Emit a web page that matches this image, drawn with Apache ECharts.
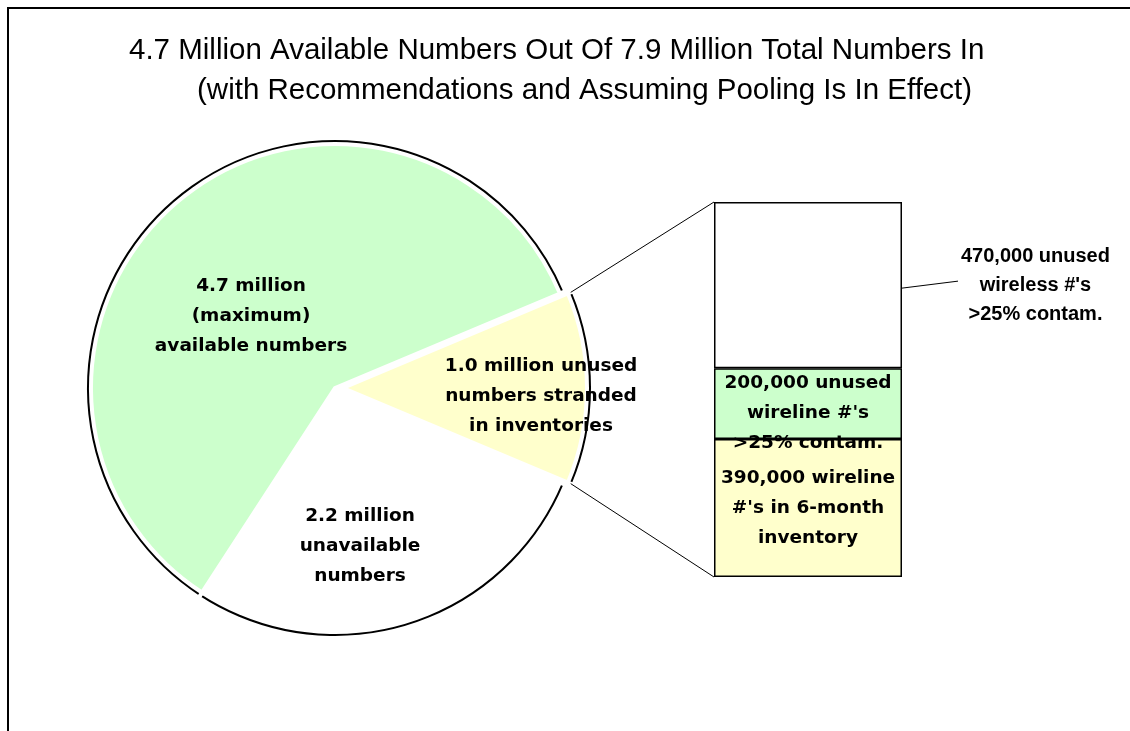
<!DOCTYPE html>
<html>
<head>
<meta charset="utf-8">
<script src="https://cdn.jsdelivr.net/npm/echarts@6/dist/echarts.min.js"></script>
<style>
  html, body { margin: 0; padding: 0; background: #ffffff; }
  #chart { width: 1130px; height: 731px; }
</style>
</head>
<body>
<div id="chart"></div>
<script>
// ---- data ----
const titleLines = [
  '4.7 Million Available Numbers Out Of 7.9 Million Total Numbers In',
  '(with Recommendations and Assuming Pooling Is In Effect)'
];
// pie slices, in millions, clockwise starting with the split-out slice
const pieNames = [
  '1.0 million unused\nnumbers stranded\nin inventories',
  '2.2 million\nunavailable\nnumbers',
  '4.7 million\n(maximum)\navailable numbers'
];
const pieValues = [1.0, 2.2, 4.7];
// breakdown of the stranded slice, bottom to top
const barNames = [
  "390,000 wireline\n#'s in 6-month\ninventory",
  "200,000 unused\nwireline #'s\n>25% contam.",
  "470,000 unused\nwireless #'s\n>25% contam."
];
const barValues = [390000, 200000, 470000];

// ---- styling / layout ----
const pieColors = ['#FFFFCC', '#FFFFFF', '#CCFFCC'];
const barColors = ['#FFFFCC', '#CCFFCC', '#FFFFFF'];
const CX = 335, CY = 388;
const R_FILL = 244, R_RING = 250, R_EDGE = 247;
const EXPLODE = 8;
const GRID_LEFT = 714, GRID_RIGHT = 228, GRID_TOP = 202, GRID_BOTTOM = 154;
// label centres measured from the pie centre; the split-out slice is nudged from its default spot instead
const pieLabelAt = [null, [25, 158], [-84, -72]];
const splitLabelNudge = { dx: 73, dy: 8 };
const labelFont = { fontFamily: 'DejaVu Sans', fontWeight: 'bold', fontSize: 18.5, lineHeight: 30, color: '#000' };
const titleFont = { fontFamily: 'Liberation Sans', fontWeight: 'normal', fontSize: 29.5, color: '#000' };

const pieTotal = pieValues.reduce((a, b) => a + b, 0);
const barTotal = barValues.reduce((a, b) => a + b, 0);
const startAngle = 180 * pieValues[0] / pieTotal;

const chart = echarts.init(document.getElementById('chart'), null, { renderer: 'canvas' });

function pieData(fillFn) {
  return pieValues.map((v, i) => ({
    name: pieNames[i],
    value: v,
    selected: i === 0,
    itemStyle: { color: fillFn(i) }
  }));
}

const commonPie = {
  type: 'pie',
  center: [CX, CY],
  startAngle: startAngle,
  clockwise: true,
  selectedMode: 'single',
  selectedOffset: EXPLODE,
  avoidLabelOverlap: false,
  silent: true,
  animation: false,
  emphasis: { disabled: true, scale: false },
  labelLine: { show: false }
};

const barSeries = barValues.map((v, i) => ({
  type: 'bar',
  stack: 'split',
  barWidth: '100%',
  silent: true,
  data: [v],
  itemStyle: { color: barColors[i], borderColor: '#000', borderWidth: 1.5 },
  label: i < 2 ? Object.assign({
    show: true,
    position: 'inside',
    offset: [0, i === 1 ? 10 : 0],
    formatter: () => barNames[i]
  }, labelFont) : {
    show: true,
    position: ['171%', '50%'],
    align: 'center',
    verticalAlign: 'middle',
    fontFamily: 'Liberation Sans',
    fontWeight: 'bold',
    fontSize: 20,
    lineHeight: 29,
    color: '#000',
    formatter: () => barNames[i]
  },
  z: 3
}));

chart.setOption({
  animation: false,
  backgroundColor: '#ffffff',
  title: [
    { text: titleLines[0], left: 129, top: 36, padding: 0, textStyle: titleFont },
    { text: titleLines[1], left: 197, top: 76, padding: 0, textStyle: titleFont }
  ],
  grid: { left: GRID_LEFT, right: GRID_RIGHT, top: GRID_TOP, bottom: GRID_BOTTOM, containLabel: false },
  xAxis: { type: 'category', data: [''], show: false },
  yAxis: { type: 'value', min: 0, max: barTotal, show: false },
  series: [
    // black outer rim, broken at the slice boundaries by the white border
    Object.assign({}, commonPie, {
      radius: R_RING,
      z: 1,
      label: { show: false },
      itemStyle: { borderColor: '#fff', borderWidth: 4 },
      select: { itemStyle: { borderColor: '#fff', borderWidth: 4 } },
      data: pieData(() => '#000')
    }),
    // slice fills with their labels
    Object.assign({}, commonPie, {
      radius: R_FILL,
      z: 2,
      itemStyle: { borderColor: '#fff', borderWidth: 4 },
      select: { itemStyle: { borderColor: '#fff', borderWidth: 4 } },
      label: Object.assign({ show: true, position: 'inside', align: 'center', verticalAlign: 'middle', formatter: p => p.name }, labelFont),
      labelLayout: p => {
        const at = pieLabelAt[p.dataIndex];
        return at ? { x: CX + at[0], y: CY + at[1] } : splitLabelNudge;
      },
      data: pieData(i => pieColors[i])
    })
  ].concat(barSeries)
});

// connectors from the split-out slice to the stacked bar, plus the callout leader
const half = Math.PI * pieValues[0] / pieTotal;
const ex = CX + EXPLODE;
const topY = chart.convertToPixel({ yAxisIndex: 0 }, barTotal);
const botY = chart.convertToPixel({ yAxisIndex: 0 }, 0);
const barRight = 1130 - GRID_RIGHT;
const topSegMid = chart.convertToPixel({ yAxisIndex: 0 }, barValues[0] + barValues[1] + barValues[2] / 2);

chart.setOption({
  graphic: [
    { type: 'rect', silent: true, z: 10,
      shape: { x: 8, y: 8, width: 1200, height: 800 },
      style: { fill: 'none', stroke: '#000', lineWidth: 2 } },
    { type: 'line', silent: true, z: 10,
      shape: { x1: ex + R_EDGE * Math.cos(half), y1: CY - R_EDGE * Math.sin(half), x2: GRID_LEFT, y2: topY },
      style: { stroke: '#000', lineWidth: 1 } },
    { type: 'line', silent: true, z: 10,
      shape: { x1: ex + R_EDGE * Math.cos(half), y1: CY + R_EDGE * Math.sin(half), x2: GRID_LEFT, y2: botY },
      style: { stroke: '#000', lineWidth: 1 } },
    { type: 'line', silent: true, z: 10,
      shape: { x1: barRight, y1: topSegMid + 3, x2: barRight + 56, y2: topSegMid - 4 },
      style: { stroke: '#000', lineWidth: 1 } }
  ]
});
</script>
</body>
</html>
